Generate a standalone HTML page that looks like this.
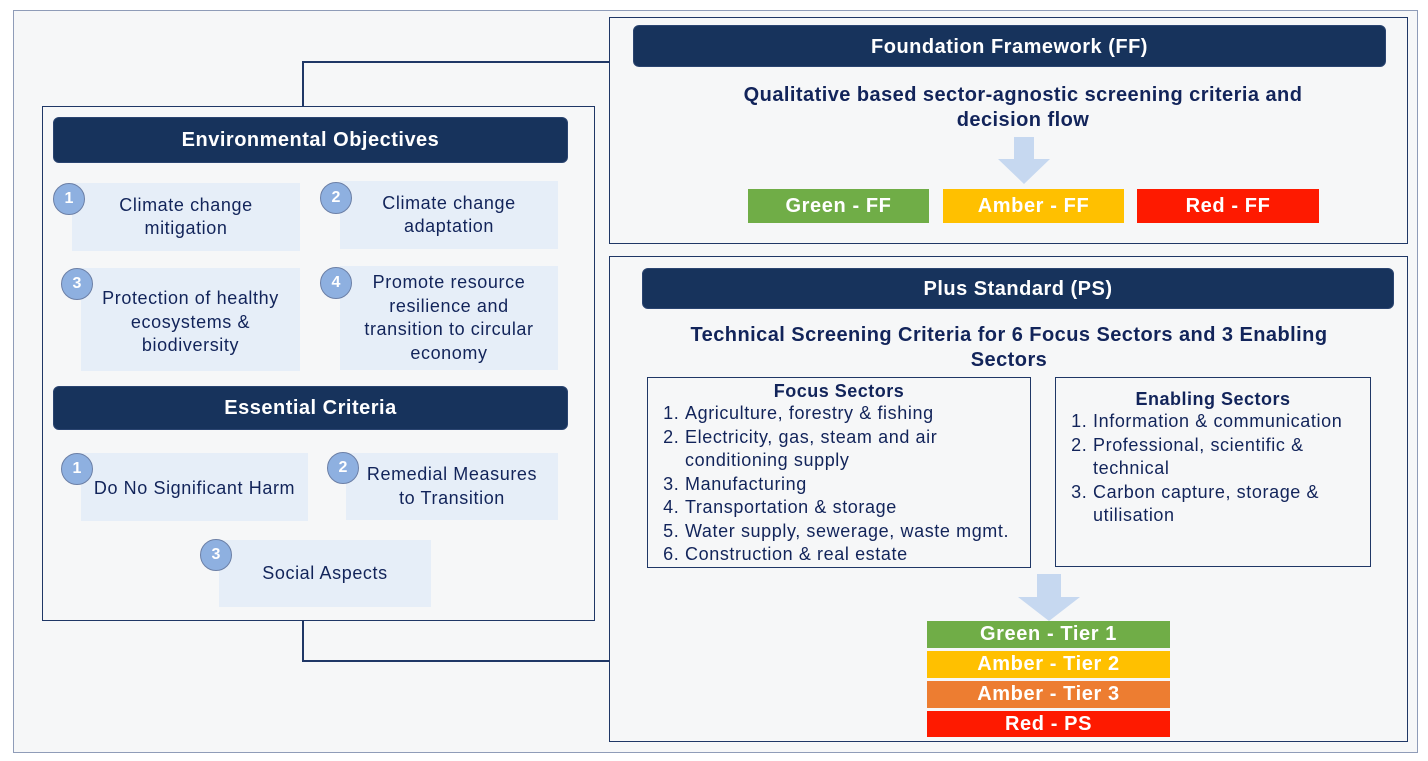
<!DOCTYPE html>
<html><head><meta charset="utf-8"><style>
body{margin:0;width:1428px;height:761px;background:#fff;font-family:"Liberation Sans",Arial,sans-serif;position:relative;overflow:hidden}
div{position:absolute;box-sizing:border-box}
.hdr{background:#17335c;color:#fff;font-weight:bold;font-size:20px;letter-spacing:0.5px;border-radius:6px;display:flex;align-items:center;justify-content:center;border:1px solid #2a4470}
.cell{background:#e6eef8;color:#12245a;font-size:18px;letter-spacing:0.6px;display:flex;align-items:center;justify-content:center;text-align:center;line-height:23.5px}
.c{width:32px;height:32px;border-radius:50%;background:#8eb0e0;border:1.5px solid #6b7fa6;color:#fff;font-weight:bold;font-size:16px;display:flex;align-items:center;justify-content:center}
.box{border:1.5px solid #1f3766}
.btn{color:#fff;font-weight:bold;font-size:20px;letter-spacing:0.6px;display:flex;align-items:center;justify-content:center}
.t{color:#12245a;font-weight:bold;font-size:20px;letter-spacing:0.45px;text-align:center;line-height:25px}
.ln{background:#1f3766}
ol{margin:0;padding-left:37px;font-size:18px;letter-spacing:0.6px;color:#12245a;line-height:23.5px}
</style></head><body>
<div style="left:13px;top:10px;width:1405px;height:743px;background:#f6f7f8;border:1px solid #8f9cb8"></div>
<div class="ln" style="left:302px;top:61px;width:1.5px;height:45px"></div>
<div class="ln" style="left:302px;top:61px;width:308px;height:1.5px"></div>
<div class="ln" style="left:302px;top:620px;width:1.5px;height:41px"></div>
<div class="ln" style="left:302px;top:660px;width:308px;height:1.5px"></div>
<div class="box" style="left:42px;top:106px;width:553px;height:515px"></div>
<div class="hdr" style="left:53px;top:117px;width:515px;height:46px">Environmental Objectives</div>
<div class="cell" style="left:72px;top:183px;width:228px;height:68px">Climate change<br>mitigation</div>
<div class="cell" style="left:340px;top:181px;width:218px;height:68px">Climate change<br>adaptation</div>
<div class="cell" style="left:81px;top:268px;width:219px;height:103px;padding-top:6px">Protection of healthy<br>ecosystems &amp;<br>biodiversity</div>
<div class="cell" style="left:340px;top:266px;width:218px;height:104px">Promote resource<br>resilience and<br>transition to circular<br>economy</div>
<div class="c" style="left:53px;top:183px">1</div>
<div class="c" style="left:320px;top:182px">2</div>
<div class="c" style="left:61px;top:268px">3</div>
<div class="c" style="left:320px;top:267px">4</div>
<div class="hdr" style="left:53px;top:386px;width:515px;height:44px">Essential Criteria</div>
<div class="cell" style="left:81px;top:453px;width:227px;height:68px;padding-top:4px">Do No Significant Harm</div>
<div class="cell" style="left:346px;top:453px;width:212px;height:67px">Remedial Measures<br>to Transition</div>
<div class="cell" style="left:219px;top:540px;width:212px;height:67px">Social Aspects</div>
<div class="c" style="left:61px;top:453px">1</div>
<div class="c" style="left:327px;top:452px">2</div>
<div class="c" style="left:200px;top:539px">3</div>

<div class="box" style="left:609px;top:17px;width:799px;height:227px"></div>
<div class="hdr" style="left:633px;top:25px;width:753px;height:42px;padding-top:3px">Foundation Framework (FF)</div>
<div class="t" style="left:690px;top:83px;width:666px">Qualitative based sector-agnostic screening criteria and<br>decision flow</div>
<svg style="position:absolute;left:998px;top:137px" width="52" height="47"><polygon points="16,0 36,0 36,22 52,22 26,47 0,22 16,22" fill="#c6d8f0"/></svg>
<div class="btn" style="left:748px;top:189px;width:181px;height:34px;background:#70ad47">Green - FF</div>
<div class="btn" style="left:943px;top:189px;width:181px;height:34px;background:#ffc000">Amber - FF</div>
<div class="btn" style="left:1137px;top:189px;width:182px;height:34px;background:#fe1a00">Red - FF</div>

<div class="box" style="left:609px;top:256px;width:799px;height:486px"></div>
<div class="hdr" style="left:642px;top:268px;width:752px;height:41px;padding-top:2px">Plus Standard (PS)</div>
<div class="t" style="left:650px;top:323px;width:718px">Technical Screening Criteria for 6 Focus Sectors and 3 Enabling<br>Sectors</div>
<div class="box" style="left:647px;top:377px;width:384px;height:191px;border-width:1px">
<div style="position:relative;text-align:center;font-weight:bold;font-size:18px;letter-spacing:0.5px;color:#12245a;margin-top:3px">Focus Sectors</div>
<ol style="position:relative"><li>Agriculture, forestry &amp; fishing</li><li>Electricity, gas, steam and air<br>conditioning supply</li><li>Manufacturing</li><li>Transportation &amp; storage</li><li>Water supply, sewerage, waste mgmt.</li><li>Construction &amp; real estate</li></ol></div>
<div class="box" style="left:1055px;top:377px;width:316px;height:190px;border-width:1px">
<div style="position:relative;text-align:center;font-weight:bold;font-size:18px;letter-spacing:0.5px;color:#12245a;margin-top:11px">Enabling Sectors</div>
<ol style="position:relative"><li>Information &amp; communication</li><li>Professional, scientific &amp;<br>technical</li><li>Carbon capture, storage &amp;<br>utilisation</li></ol></div>
<svg style="position:absolute;left:1018px;top:574px" width="62" height="47"><polygon points="19,0 43,0 43,23 62,23 31,47 0,23 19,23" fill="#c6d8f0"/></svg>
<div class="btn" style="left:927px;top:621px;width:243px;height:27px;background:#70ad47">Green - Tier 1</div>
<div class="btn" style="left:927px;top:651px;width:243px;height:27px;background:#ffc000">Amber - Tier 2</div>
<div class="btn" style="left:927px;top:681px;width:243px;height:27px;background:#ed7d31">Amber - Tier 3</div>
<div class="btn" style="left:927px;top:711px;width:243px;height:26px;background:#fe1a00">Red - PS</div>
</body></html>
